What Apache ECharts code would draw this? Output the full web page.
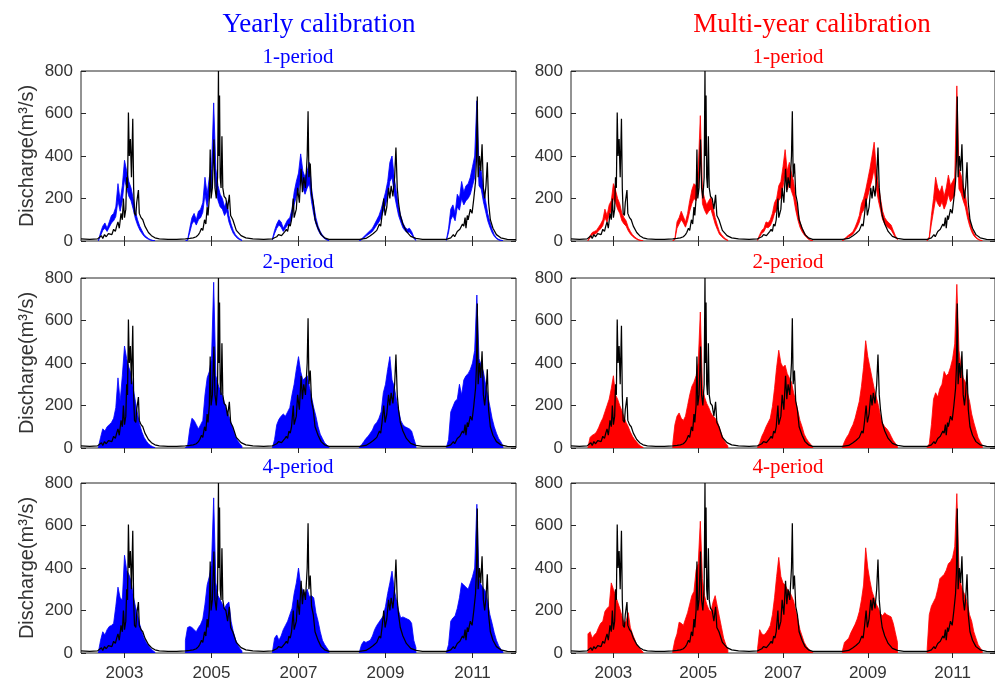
<!DOCTYPE html>
<html>
<head>
<meta charset="utf-8">
<script src="https://cdn.jsdelivr.net/npm/echarts@6/dist/echarts.min.js"></script>
<style>
html,body{margin:0;padding:0;background:#fff;}
#chart{width:995px;height:684px;}
</style>
</head>
<body>
<div id="chart"></div>
<script>
// ---------------- DATA ----------------
const xTickYears = [2003, 2005, 2007, 2009, 2011];
const yTicks = [0, 200, 400, 600, 800];
const columnTitles = ['Yearly calibration', 'Multi-year calibration'];
const rowTitles = ['1-period', '2-period', '4-period'];
const yLabel = 'Discharge(m\u00B3/s)';

// observed discharge (black line): decimal year / m3/s
const obsYear = [2002.00,2002.20,2002.38,2002.42,2002.47,2002.50,2002.54,2002.58,2002.63,2002.67,2002.71,2002.75,2002.79,2002.82,2002.85,2002.88,2002.92,2002.95,2002.975,2003.00,2003.03,2003.05,2003.07,2003.09,2003.11,2003.135,2003.16,2003.19,2003.21,2003.23,2003.26,2003.28,2003.32,2003.34,2003.38,2003.42,2003.47,2003.55,2003.62,2003.70,2003.80,2004.00,2004.20,2004.40,2004.50,2004.58,2004.65,2004.70,2004.73,2004.77,2004.80,2004.84,2004.87,2004.90,2004.92,2004.95,2004.97,2004.99,2005.02,2005.055,2005.08,2005.11,2005.14,2005.16,2005.17,2005.185,2005.20,2005.22,2005.24,2005.26,2005.29,2005.33,2005.37,2005.41,2005.44,2005.49,2005.57,2005.68,2005.79,2005.95,2006.20,2006.40,2006.45,2006.50,2006.54,2006.58,2006.61,2006.65,2006.69,2006.72,2006.75,2006.78,2006.81,2006.84,2006.88,2006.90,2006.95,2006.98,2007.02,2007.06,2007.09,2007.12,2007.16,2007.20,2007.22,2007.24,2007.27,2007.30,2007.34,2007.38,2007.45,2007.52,2007.60,2007.70,2008.00,2008.40,2008.55,2008.65,2008.69,2008.72,2008.76,2008.80,2008.83,2008.86,2008.89,2008.92,2008.96,2008.99,2009.03,2009.07,2009.10,2009.13,2009.17,2009.21,2009.24,2009.27,2009.30,2009.34,2009.40,2009.48,2009.58,2009.70,2009.85,2010.20,2010.40,2010.50,2010.56,2010.59,2010.62,2010.65,2010.68,2010.71,2010.74,2010.77,2010.80,2010.83,2010.85,2010.88,2010.90,2010.95,2010.99,2011.03,2011.07,2011.09,2011.11,2011.13,2011.16,2011.19,2011.22,2011.25,2011.28,2011.31,2011.34,2011.37,2011.41,2011.47,2011.55,2011.65,2011.80,2012.00];
const obsFlow = [10,8,10,15,25,12,30,20,35,40,30,55,45,70,90,60,130,100,200,110,150,300,250,605,400,480,300,575,250,130,120,180,240,130,110,100,70,40,25,15,10,8,8,10,12,15,20,30,40,60,50,100,80,160,120,200,430,200,250,477,250,200,300,800,400,685,300,250,493,250,210,200,150,217,120,100,50,25,15,10,8,10,15,20,30,35,25,30,45,55,45,80,70,100,200,110,150,250,180,340,230,300,250,400,611,300,365,220,180,100,60,30,15,8,8,8,12,25,20,35,30,50,45,80,70,120,200,120,160,250,200,260,210,300,440,250,180,120,80,45,22,12,8,8,8,15,30,20,25,45,40,55,50,80,70,110,60,120,100,150,130,200,280,380,680,300,400,330,455,250,200,260,370,180,100,60,30,15,8,6];

// simulated ensemble envelopes: one row per wet season, sampled at peakYear + offset
const seasonPeakYears = [2003, 2005, 2007, 2009, 2011];
const simOffsets = [-0.60,-0.55,-0.50,-0.45,-0.40,-0.35,-0.30,-0.25,-0.20,-0.15,-0.10,-0.05,0,0.05,0.10,0.15,0.20,0.25,0.30,0.35,0.40,0.45,0.50,0.55,0.60,0.65,0.70];

// Yearly calibration, 1-period (upper / lower envelope)
const yearly1Hi = [
  [3,40,70,85,60,90,120,130,160,270,190,260,380,330,280,250,200,140,100,70,50,30,20,12,6,3,1],
  [0,5,60,110,130,100,140,150,180,300,220,300,340,650,340,260,220,200,160,190,120,80,50,30,18,10,4],
  [10,50,80,100,90,60,80,100,110,150,230,280,320,410,330,300,330,370,250,170,110,70,45,28,16,8,3],
  [2,10,20,30,40,50,60,80,100,120,150,190,230,280,370,400,300,230,160,120,85,65,55,60,45,20,5],
  [5,60,150,170,130,220,200,280,230,260,270,300,350,400,660,350,330,250,190,130,90,55,30,15,8,4,2]
];
const yearly1Lo = [
  [1,25,50,60,45,65,85,95,115,190,140,190,290,250,210,190,150,105,75,52,36,22,14,8,4,2,0],
  [0,3,40,80,95,75,100,110,135,220,160,220,250,480,250,190,160,150,120,140,90,60,36,22,12,6,2],
  [5,35,60,75,65,45,60,75,80,110,170,210,240,300,250,220,250,270,185,125,80,52,32,20,11,5,2],
  [1,6,14,22,30,37,45,60,75,90,110,140,170,210,280,300,225,170,120,90,62,48,40,42,30,12,3],
  [3,40,100,120,95,160,145,200,170,190,200,220,260,300,480,260,245,185,140,95,65,40,22,11,5,2,1]
];
// Multi-year calibration, 1-period
const multi1Hi = [
  [3,25,40,45,50,65,80,100,150,120,170,190,270,240,200,175,130,110,95,65,45,30,20,12,6,3,1],
  [2,10,90,110,140,115,90,130,190,240,270,260,330,590,240,200,170,190,205,160,110,75,45,30,18,10,4],
  [5,30,50,60,90,85,100,130,180,200,260,280,350,430,330,370,320,280,200,140,90,60,40,25,12,5,2],
  [2,10,20,28,35,45,65,90,120,175,200,240,290,340,400,465,340,260,200,140,110,95,85,75,50,25,10],
  [3,20,120,200,300,250,230,260,210,250,310,260,280,300,730,340,310,260,220,150,100,60,35,20,10,4,2]
];
const multi1Lo = [
  [1,15,28,32,36,48,58,72,110,88,125,140,200,180,150,130,95,80,70,48,33,22,14,8,4,2,0],
  [1,6,60,80,100,85,65,95,140,175,200,190,240,430,175,145,125,140,150,115,80,55,32,21,12,6,2],
  [3,20,36,44,65,62,72,95,130,145,190,205,255,320,240,270,235,205,145,100,65,44,29,18,8,3,1],
  [1,6,14,20,25,33,48,66,88,128,145,175,212,250,290,340,250,190,145,100,80,68,60,52,34,16,6],
  [1,12,80,140,200,175,160,185,150,175,220,185,200,215,520,245,225,190,160,110,72,44,25,14,7,3,1]
];
// 2-period (upper envelope; band reaches the baseline)
const yearly2Hi = [
  [5,50,90,80,100,110,120,140,190,330,220,340,480,420,380,350,280,220,160,110,75,50,33,20,12,6,2],
  [2,10,90,140,130,110,90,110,130,250,330,360,420,780,340,300,270,245,210,180,150,120,85,55,35,20,8],
  [2,40,110,135,150,160,150,170,190,250,300,370,430,360,320,330,340,290,240,190,150,100,65,45,25,14,5],
  [3,15,30,45,55,70,85,110,120,140,170,260,300,370,430,320,290,230,180,130,110,100,95,90,80,45,12],
  [3,40,170,195,220,230,300,250,320,340,350,370,400,460,720,420,390,360,300,250,195,140,100,70,45,30,10]
];
const multi2Hi = [
  [5,50,60,65,75,95,120,140,170,200,230,280,340,250,230,200,175,145,120,100,75,55,40,28,16,8,3],
  [20,110,150,165,140,130,150,200,250,290,310,340,400,640,280,240,210,190,165,150,140,125,95,65,40,22,10],
  [3,25,55,75,100,120,140,195,280,380,460,400,380,390,350,330,310,260,220,175,130,100,65,45,30,18,6],
  [3,30,50,65,90,110,140,180,220,290,380,505,430,380,330,280,240,200,150,115,100,90,75,55,35,22,8],
  [3,20,110,230,260,240,280,300,360,340,350,380,420,490,770,460,380,330,310,260,220,160,120,85,50,30,12]
];
// 4-period
const yearly4Hi = [
  [5,60,100,85,110,125,130,140,220,310,260,250,460,390,370,340,270,220,180,135,100,70,50,35,22,12,4],
  [60,120,125,120,110,100,120,135,160,230,320,360,420,730,330,270,250,230,210,230,240,150,100,65,40,22,10],
  [5,70,85,60,80,110,130,150,180,210,280,330,400,320,290,280,300,265,270,260,190,150,100,60,40,25,10],
  [5,40,55,50,55,60,80,110,130,145,160,175,220,280,330,385,300,250,200,165,170,165,160,155,140,60,25],
  [3,40,150,165,175,210,260,330,320,310,300,330,360,400,700,350,320,305,290,240,180,140,95,60,35,18,8]
];
const multi4Hi = [
  [90,100,70,85,95,120,140,150,195,210,220,330,300,270,240,210,175,140,150,190,120,90,65,40,28,14,5],
  [10,60,90,145,140,130,160,190,230,270,290,390,420,620,350,270,230,205,195,240,270,220,170,120,70,40,18],
  [20,110,90,85,95,110,130,180,260,360,450,360,330,320,300,290,270,245,200,160,110,80,50,32,20,10,4],
  [10,50,60,70,95,115,135,160,195,250,320,495,400,340,290,260,230,210,185,175,190,180,175,170,140,95,50],
  [20,180,220,240,260,300,350,360,370,390,420,430,450,500,750,400,320,290,270,230,180,150,100,70,40,25,10]
];

// ---------------- LAYOUT ----------------
const BLUE = '#0000FF', RED = '#FF0000', AX = '#262626';
const colLeft = [81, 571];
const gridW = 435;
const rowTop = [71, 278, 483];
const gridH = 170;

const panels = [
  {row:0, col:0, hi:yearly1Hi, lo:yearly1Lo, color:BLUE},
  {row:0, col:1, hi:multi1Hi,  lo:multi1Lo,  color:RED},
  {row:1, col:0, hi:yearly2Hi, lo:null, color:BLUE},
  {row:1, col:1, hi:multi2Hi,  lo:null, color:RED},
  {row:2, col:0, hi:yearly4Hi, lo:null, color:BLUE},
  {row:2, col:1, hi:multi4Hi,  lo:null, color:RED}
];

const grids = [], xAxes = [], yAxes = [], series = [];
const tickFont = {fontFamily:'"Liberation Sans", Arial, sans-serif', fontSize:17, color:'#333'};

panels.forEach((p, i) => {
  grids.push({left: colLeft[p.col], top: rowTop[p.row], width: gridW, height: gridH,
    show: true, borderColor: AX, borderWidth: 1, backgroundColor: 'transparent', containLabel: false});
  const xBase = {gridIndex:i, type:'value', min:2002, max:2012,
    axisLine:{show:false}, splitLine:{show:false},
    axisTick:{show:true, inside:true, length:5, customValues:xTickYears, lineStyle:{color:AX}}};
  xAxes.push(Object.assign({}, xBase, {position:'bottom',
    axisLabel: Object.assign({show: p.row === 2, customValues:xTickYears, margin:12,
      formatter: v => String(Math.round(v))}, tickFont)}));
  xAxes.push(Object.assign({}, xBase, {position:'top', axisLabel:{show:false}}));
  const yBase = {gridIndex:i, type:'value', min:0, max:800, interval:200,
    axisLine:{show:false}, splitLine:{show:false},
    axisTick:{show:true, inside:true, length:5, lineStyle:{color:AX}}};
  const yl = Object.assign({}, yBase, {position:'left',
    axisLabel: Object.assign({margin:8, showMinLabel:true, showMaxLabel:true}, tickFont)});
  if (p.col === 0) {
    yl.name = yLabel; yl.nameLocation = 'middle'; yl.nameRotate = 90; yl.nameGap = 44;
    yl.nameTextStyle = {fontFamily:'"Liberation Sans", Arial, sans-serif', fontSize:20, color:'#333'};
  }
  yAxes.push(yl);
  yAxes.push(Object.assign({}, yBase, {position:'right', axisLabel:{show:false}}));

  const hi = p.hi, lo = p.lo, color = p.color;
  series.push({
    type:'custom', xAxisIndex:2*i, yAxisIndex:2*i, clip:true, z:2, silent:true,
    data: seasonPeakYears.map(y => [y, 0]),
    encode:{x:0, y:1},
    renderItem: function(params, api){
      const s = params.dataIndex, Y = seasonPeakYears[s];
      const top = [], bot = [];
      for (let k = 0; k < simOffsets.length; k++) {
        const x = Y + simOffsets[k];
        top.push(api.coord([x, hi[s][k]]));
        bot.push(api.coord([x, lo ? lo[s][k] : 0]));
      }
      return {type:'polygon', shape:{points: top.concat(bot.reverse())},
        style:{fill:color, stroke:color, lineWidth:0.8}};
    }
  });
  series.push({
    type:'line', xAxisIndex:2*i, yAxisIndex:2*i, z:3, silent:true,
    data: obsYear.map((x, k) => [x, obsFlow[k]]),
    showSymbol:false, symbol:'none', clip:true,
    lineStyle:{color:'#000', width:1.25}
  });
});

const graphics = [
  {type:'text', x:319, y:25, style:{text:columnTitles[0], fill:BLUE, font:'27px "Liberation Serif", "Times New Roman", serif', align:'center', verticalAlign:'middle'}},
  {type:'text', x:812, y:25, style:{text:columnTitles[1], fill:RED, font:'27px "Liberation Serif", "Times New Roman", serif', align:'center', verticalAlign:'middle'}}
];
const subY = [57, 262, 467];
rowTitles.forEach((t, r) => {
  graphics.push({type:'text', x:298, y:subY[r], style:{text:t, fill:BLUE, font:'21px "Liberation Serif", "Times New Roman", serif', align:'center', verticalAlign:'middle'}});
  graphics.push({type:'text', x:788, y:subY[r], style:{text:t, fill:RED, font:'21px "Liberation Serif", "Times New Roman", serif', align:'center', verticalAlign:'middle'}});
});

const chart = echarts.init(document.getElementById('chart'), null, {renderer:'canvas'});
chart.setOption({
  backgroundColor:'#fff',
  animation:false,
  grid: grids, xAxis: xAxes, yAxis: yAxes, series: series,
  graphic: graphics
});
</script>
</body>
</html>
